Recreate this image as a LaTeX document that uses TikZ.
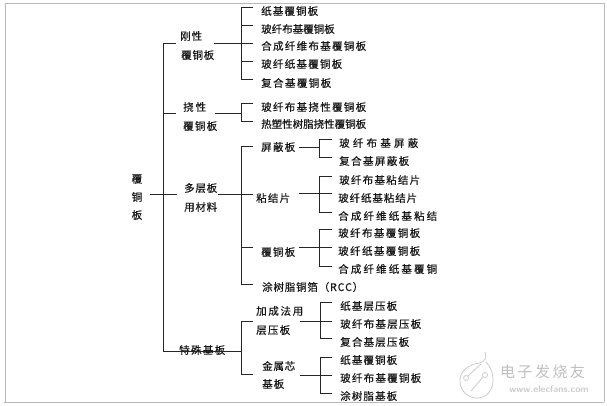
\documentclass[tikz,border=0pt]{standalone}
\usepackage{fontspec}
\newfontfamily\cjk[FakeBold=0.5]{Noto Sans CJK SC}
\newfontfamily\cjkplain{Noto Sans CJK SC}
\makeatletter
\newcommand\spreadtext[2]{\makebox[#1pt][s]{\let\my@sep\relax\@tfor\my@c:=#2\do{\my@sep\my@c\let\my@sep\hfil}}}
\makeatother
\tikzset{
  lab/.style={inner sep=0pt,anchor=west,font=\cjk\fontsize{10.5}{12}\selectfont,text=black!90},
  conn/.style={line width=1pt,black!85},
  wmline/.style={gray!40,line width=0.8pt}
}
\begin{document}
\begin{tikzpicture}[x=1pt,y=-1pt]
\useasboundingbox (0,0) rectangle (607,405);
\fill[white] (0,0) rectangle (607,405);
\draw[gray!55,line width=1pt] (5.5,402) -- (5.5,3.5) -- (604,3.5) -- (604,402);
\draw[gray!55,line width=1pt] (4,402) -- (604,402);
% root
\node[lab,anchor=center] (r1) at (137,179) {覆};
\node[lab,anchor=center] (r2) at (137,197) {铜};
\node[lab,anchor=center] (r3) at (137,215) {板};
\coordinate (rootR) at (150,194);
\coordinate (rootT) at (177,194);
\coordinate (m1) at (163,43);
\coordinate (m2) at (163,113);
\coordinate (m3) at (163,194);
\coordinate (m4) at (163,351);
% level 1
\node[lab] (a1) at (180,36) {\spreadtext{22}{刚性}};
\node[lab] (a2) at (181,55) {\spreadtext{33}{覆铜板}};
\node[lab] (b1) at (183,107) {\spreadtext{23}{挠性}};
\node[lab] (b2) at (183,126) {\spreadtext{34}{覆铜板}};
\node[lab] (c1) at (184,188) {\spreadtext{33}{多层板}};
\node[lab] (c2) at (184,207) {\spreadtext{33}{用材料}};
\node[lab] (d1) at (179,350) {\spreadtext{46}{特殊基板}};
% level 2 leaves
\node[lab] (a11) at (261,11) {\spreadtext{57}{纸基覆铜板}};
\node[lab] (a12) at (261,29) {\spreadtext{73}{玻纤布基覆铜板}};
\node[lab] (a13) at (261,46) {\spreadtext{105}{合成纤维布基覆铜板}};
\node[lab] (a14) at (261,64) {\spreadtext{81}{玻纤纸基覆铜板}};
\node[lab] (a15) at (261,83) {\spreadtext{70}{复合基覆铜板}};
\node[lab] (b11) at (261,107) {\spreadtext{105}{玻纤布基挠性覆铜板}};
\node[lab] (b12) at (261,124) {\spreadtext{95}{热塑性树脂挠性覆铜板}};
\node[lab] (c11) at (261,147) {\spreadtext{34}{屏蔽板}};
\node[lab] (c12) at (256,198) {\spreadtext{34}{粘结片}};
\node[lab] (c13) at (261,252) {\spreadtext{34}{覆铜板}};
\node[lab] (c14) at (262,287) {\spreadtext{101}{涂树脂铜箔（RCC）}};
\node[lab] (d11) at (256,311) {\spreadtext{47}{加成法用}};
\node[lab] (d12) at (256,330) {\spreadtext{34}{层压板}};
\node[lab] (d21) at (262,366) {\spreadtext{33}{金属芯}};
\node[lab] (d22) at (262,384) {\spreadtext{22}{基板}};
% level 3
\node[lab] (e1) at (339,143) {\spreadtext{79}{玻纤布基屏蔽}};
\node[lab] (e2) at (339,161) {\spreadtext{70}{复合基屏蔽板}};
\node[lab] (f1) at (339,180) {\spreadtext{81}{玻纤布基粘结片}};
\node[lab] (f2) at (338,198) {\spreadtext{79}{玻纤纸基粘结片}};
\node[lab] (f3) at (338,216) {\spreadtext{99}{合成纤维纸基粘结}};
\node[lab] (g1) at (338,233) {\spreadtext{82}{玻纤布基覆铜板}};
\node[lab] (g2) at (338,251) {\spreadtext{82}{玻纤纸基覆铜板}};
\node[lab] (g3) at (338,269) {\spreadtext{99}{合成纤维纸基覆铜}};
\node[lab] (h1) at (340,306) {\spreadtext{57}{纸基层压板}};
\node[lab] (h2) at (340,324) {\spreadtext{81}{玻纤布基层压板}};
\node[lab] (h3) at (340,342) {\spreadtext{69}{复合基层压板}};
\node[lab] (i1) at (340,360) {\spreadtext{57}{纸基覆铜板}};
\node[lab] (i2) at (340,378) {\spreadtext{81}{玻纤布基覆铜板}};
\node[lab] (i3) at (340,396) {\spreadtext{57}{涂树脂基板}};
% connectors
\draw[conn] (rootR) -- (rootT);
\draw[conn] (m1) -- (m4);
\draw[conn] (176,43) -- (m1);
\draw[conn] (176,113) -- (m2);
\draw[conn] (241,351) -- (m4);
% rigid
\draw[conn] (214,43) -- (241,43);
\draw[conn] (253,7) -- (241,7) -- (241,79) -- (253,79);
\foreach \y in {25,43,61} \draw[conn] (241,\y) -- (253,\y);
% flexible
\draw[conn] (215,113) -- (241,113);
\draw[conn] (253,103) -- (241,103) -- (241,121) -- (253,121);
% multilayer
\draw[conn] (218,194) -- (253,194);
\draw[conn] (253,146) -- (241,146) -- (241,284) -- (253,284);
\draw[conn] (241,247) -- (253,247);
\draw[conn] (299,147) -- (319,147);
\draw[conn] (332,139) -- (319,139) -- (319,157) -- (332,157);
\draw[conn] (299,193) -- (332,193);
\draw[conn] (332,176) -- (319,176) -- (319,212) -- (332,212);
\draw[conn] (299,247) -- (332,247);
\draw[conn] (332,229) -- (319,229) -- (319,266) -- (332,266);
% special
\draw[conn] (253,321) -- (241,321) -- (241,374) -- (253,374);
\draw[conn] (300,321) -- (332,321);
\draw[conn] (332,302) -- (320,302) -- (320,338) -- (332,338);
\draw[conn] (300,375) -- (332,375);
\draw[conn] (332,357) -- (320,357) -- (320,393) -- (332,393);
% watermark
\draw[wmline] (485,352) .. controls (487,358) and (485,361) .. (480,363) .. controls (470,364) and (460,370) .. (460,381) .. controls (460,392) and (469,398) .. (477,398) .. controls (487,398) and (493,390) .. (493,380) .. controls (493,372) and (490,366) .. (486,362);
\draw[wmline] (466,378) circle (2.5);
\draw[wmline] (485,375) circle (2.5);
\draw[wmline] (468,376) -- (481,364);
\draw[wmline] (483,377) -- (471,391);
\node[inner sep=0pt,font=\cjkplain\fontsize{15}{18}\selectfont,text=gray!50] (wm1) at (542.5,372) {\spreadtext{85}{电子发烧友}};
\node[inner sep=0pt,font=\sffamily\bfseries\fontsize{9.5}{10}\selectfont,text=gray!40] (wm2) at (549,389) {www.elecfans.com};
\end{tikzpicture}
\end{document}
